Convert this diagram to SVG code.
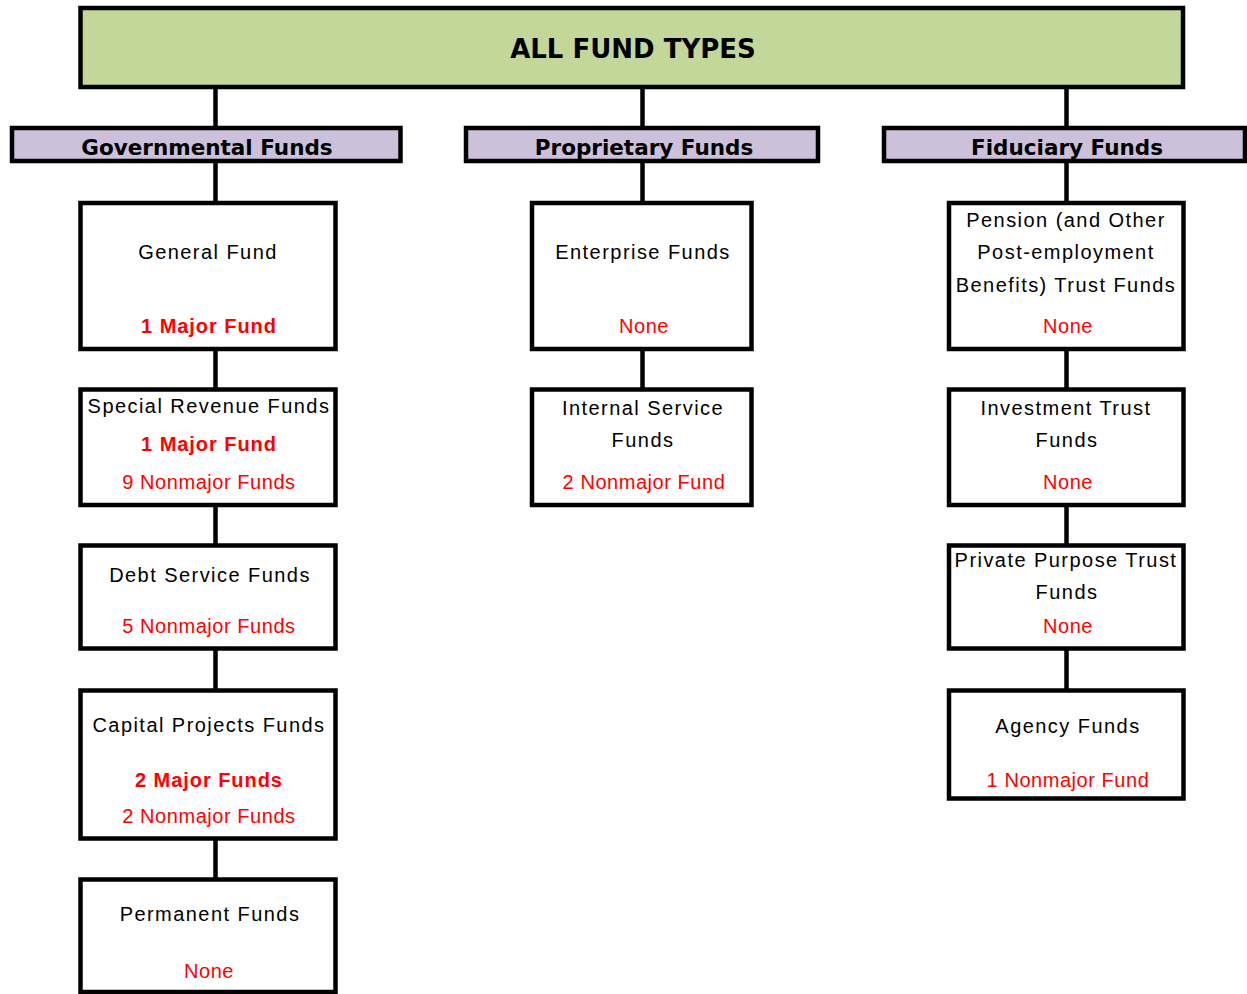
<svg xmlns="http://www.w3.org/2000/svg" width="1247" height="994" viewBox="0 0 1247 994">
<style>
.box{fill:#fff;stroke:#000;stroke-width:4.5}
.bar{fill:#CCC0DA;stroke:#000;stroke-width:4.5}
.title{fill:#C4D79B;stroke:#000;stroke-width:4.5}
.ln{stroke:#000;stroke-width:4.5;fill:none}
.h{font-family:"DejaVu Sans",Verdana,sans-serif;font-weight:bold;text-anchor:middle;fill:#000}
.t{font-family:"Liberation Sans",Arial,sans-serif;font-size:20px;letter-spacing:1.45px;text-anchor:middle;fill:#000}
.r{fill:#FF0000;letter-spacing:0.55px}
.b{font-weight:bold;letter-spacing:0.95px}
</style>
<rect width="1247" height="994" fill="#fff"/>
<g id="connectors">
<path class="ln" d="M215.5 87V128M642.5 87V128M1066.5 87V128"/>
<path class="ln" d="M215.5 161V203M215.5 349V389.5M215.5 505V545.5M215.5 648.5V690.5M215.5 838.5V879.5"/>
<path class="ln" d="M642.5 161V203M642.5 349V389.5"/>
<path class="ln" d="M1066.5 161V203M1066.5 349V389.5M1066.5 505V545.5M1066.5 648.5V690.5"/>
</g>
<g id="all-fund-types">
<rect class="title" x="80.5" y="8" width="1102.5" height="79"/>
<text class="h" x="633" y="58" font-size="26">ALL FUND TYPES</text>
</g>
<g id="governmental">
<rect class="bar" x="12" y="128" width="388.5" height="33"/>
<text class="h" x="207" y="155" font-size="21.5">Governmental Funds</text>
</g>
<g id="proprietary">
<rect class="bar" x="466" y="128" width="352" height="33"/>
<text class="h" x="644" y="155" font-size="21.5">Proprietary Funds</text>
</g>
<g id="fiduciary">
<rect class="bar" x="884" y="128" width="361" height="33"/>
<text class="h" x="1067" y="155" font-size="21.5">Fiduciary Funds</text>
</g>
<g id="general-fund">
<rect class="box" x="80.5" y="203" width="255" height="146"/>
<text class="t" x="208" y="259">General Fund</text>
<text class="t r b" x="209" y="333">1 Major Fund</text>
</g>
<g id="special-revenue">
<rect class="box" x="80.5" y="389.5" width="255" height="115.5"/>
<text class="t" x="209" y="413">Special Revenue Funds</text>
<text class="t r b" x="209" y="451">1 Major Fund</text>
<text class="t r" x="209" y="489">9 Nonmajor Funds</text>
</g>
<g id="debt-service">
<rect class="box" x="80.5" y="545.5" width="255" height="103"/>
<text class="t" x="210" y="582">Debt Service Funds</text>
<text class="t r" x="209" y="633">5 Nonmajor Funds</text>
</g>
<g id="capital-projects">
<rect class="box" x="80.5" y="690.5" width="255" height="148"/>
<text class="t" x="209" y="732">Capital Projects Funds</text>
<text class="t r b" x="209" y="787">2 Major Funds</text>
<text class="t r" x="209" y="823">2 Nonmajor Funds</text>
</g>
<g id="permanent">
<rect class="box" x="80.5" y="879.5" width="255" height="112.5"/>
<text class="t" x="210" y="921">Permanent Funds</text>
<text class="t r" x="209" y="978">None</text>
</g>
<g id="enterprise">
<rect class="box" x="532" y="203" width="219.5" height="146"/>
<text class="t" x="643" y="259">Enterprise Funds</text>
<text class="t r" x="644" y="333">None</text>
</g>
<g id="internal-service">
<rect class="box" x="532" y="389.5" width="219.5" height="115.5"/>
<text class="t" x="643" y="415">Internal Service</text>
<text class="t" x="643" y="447">Funds</text>
<text class="t r" x="644" y="489">2 Nonmajor Fund</text>
</g>
<g id="pension">
<rect class="box" x="949" y="203" width="234.5" height="146"/>
<text class="t" x="1066" y="227">Pension (and Other</text>
<text class="t" x="1066" y="259">Post-employment</text>
<text class="t" x="1066" y="292">Benefits) Trust Funds</text>
<text class="t r" x="1068" y="333">None</text>
</g>
<g id="investment-trust">
<rect class="box" x="949" y="389.5" width="234.5" height="115.5"/>
<text class="t" x="1066" y="415">Investment Trust</text>
<text class="t" x="1067" y="447">Funds</text>
<text class="t r" x="1068" y="489">None</text>
</g>
<g id="private-purpose">
<rect class="box" x="949" y="545.5" width="234.5" height="103"/>
<text class="t" x="1066" y="567">Private Purpose Trust</text>
<text class="t" x="1067" y="599">Funds</text>
<text class="t r" x="1068" y="633">None</text>
</g>
<g id="agency">
<rect class="box" x="949" y="690.5" width="234.5" height="108"/>
<text class="t" x="1068" y="733">Agency Funds</text>
<text class="t r" x="1068" y="787">1 Nonmajor Fund</text>
</g>
</svg>
